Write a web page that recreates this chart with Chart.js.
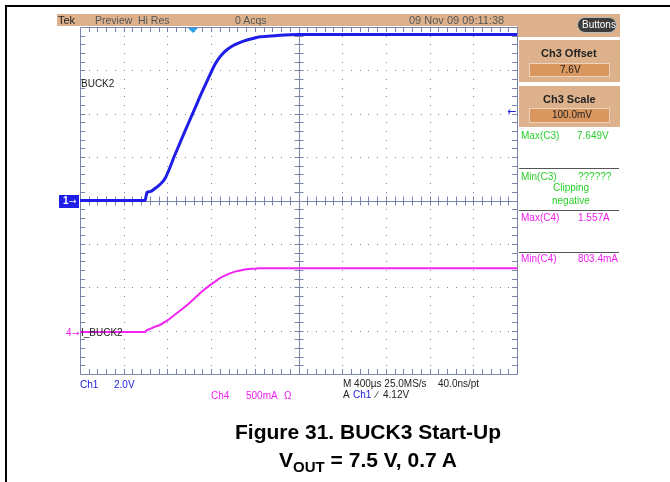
<!DOCTYPE html>
<html>
<head>
<meta charset="utf-8">
<script src="https://cdn.jsdelivr.net/npm/chart.js@4/dist/chart.umd.min.js"></script>
<style>
  body { margin: 0; background: #fff; }
  #wrap { position: relative; width: 670px; height: 482px; overflow: hidden; }
  #scope { position: absolute; left: 0; top: 0; }
  .t { position: absolute; font-family: 'Liberation Sans Narrow', 'Arial Narrow', 'Liberation Sans', sans-serif; font-size: 10px; line-height: 12px; white-space: nowrap; }
  .arr { font-family: 'DejaVu Sans', sans-serif; }
  .blk { color: #222; }
  .blu { color: #2020e0; }
  .mag { color: #f020f0; }
  .grn { color: #28d028; }
  .box { position: absolute; }
  .cap { position: absolute; left: 0; width: 736px; text-align: center; font-family: 'Liberation Sans', Arial, sans-serif; font-weight: bold; font-size: 21px; color: #000; line-height: 24px; }
  .cap sub { font-size: 15px; vertical-align: -5px; line-height: 0; }
</style>
</head>
<body>
<div id="wrap">
  <!-- frame lines -->
  <div class="box" style="left:5px;top:5px;width:665px;height:2px;background:#000"></div>
  <div class="box" style="left:5px;top:5px;width:2px;height:477px;background:#000"></div>

  <!-- header bar and channel 3 panel -->
  <div class="box" style="left:57px;top:14px;width:563px;height:12px;background:#ddb18c"></div>
  <div class="box" style="left:517px;top:14px;width:103px;height:23px;background:#ddb18c"></div>
  <div class="box" style="left:519px;top:40px;width:101px;height:42px;background:#ddb18c"></div>
  <div class="box" style="left:519px;top:86px;width:101px;height:41px;background:#ddb18c"></div>
  <div class="box" style="left:529px;top:63px;width:81px;height:14px;background:#d9975f;border:1px solid #edd3bc;box-sizing:border-box"></div>
  <div class="box" style="left:529px;top:108px;width:81px;height:15px;background:#d9975f;border:1px solid #edd3bc;box-sizing:border-box"></div>
  <div class="box" style="left:577px;top:17px;width:40px;height:16px;background:#3c3c3c;border:1px solid #bbb;border-radius:8px;box-sizing:border-box"></div>

  <canvas id="scope" width="670" height="482"></canvas>
</div>
<script>
// time axis in microseconds (400 us/div, 10 div)
const timeUs = [0, 595, 613, 641, 686, 732, 778, 870, 961, 1007, 1052, 1098, 1144, 1190, 1236, 1281, 1327, 1373, 1419, 1510, 1620, 1648, 1785, 1986, 4000];
// Ch1 BUCK2 output voltage (V)
const ch1Volts = [0, 0, 0.37, 0.41, 0.55, 0.74, 1.01, 2.12, 3.2, 3.73, 4.25, 4.79, 5.3, 5.8, 6.28, 6.62, 6.88, 7.06, 7.19, 7.37, 7.52, 7.55, 7.6, 7.65, 7.65];
// Ch4 BUCK2 current (A)
const ch4Amps = [0, 0, 0.02, 0.035, 0.06, 0.08, 0.115, 0.2, 0.29, 0.34, 0.39, 0.445, 0.495, 0.54, 0.58, 0.62, 0.65, 0.675, 0.695, 0.72, 0.732, 0.735, 0.735, 0.735, 0.735];

const divUs = 400;
const gridColor = '#7a84aa';

const ch1Points = timeUs.map((t, i) => ({ x: t, y: ch1Volts[i] }));
const ch4Points = timeUs.map((t, i) => ({ x: t, y: ch4Amps[i] }));

// scope graticule: dotted divisions, ticked centre cross, ticked border
const graticule = {
  id: 'graticule',
  beforeDatasetsDraw(chart) {
    const { ctx, chartArea: a } = chart;
    const w = a.right - a.left, h = a.bottom - a.top;
    const dx = w / 10, dy = h / 8;
    const cx = a.left + w / 2, cy = a.top + h / 2;
    ctx.save();
    ctx.fillStyle = gridColor;
    // dots along every division line
    for (let i = 1; i < 10; i++) {
      const x = Math.round(a.left + i * dx);
      for (let j = 0; j <= 40; j++) ctx.fillRect(x, Math.round(a.top + j * dy / 5), 1, 1);
    }
    for (let j = 1; j < 8; j++) {
      const y = Math.round(a.top + j * dy);
      for (let i = 0; i <= 50; i++) ctx.fillRect(Math.round(a.left + i * dx / 5), y, 1, 1);
    }
    ctx.strokeStyle = gridColor;
    ctx.lineWidth = 1;
    ctx.beginPath();
    // border
    ctx.rect(Math.round(a.left) + 0.5, Math.round(a.top) + 0.5, Math.round(w), Math.round(h));
    // centre cross
    ctx.moveTo(Math.round(cx) + 0.5, a.top); ctx.lineTo(Math.round(cx) + 0.5, a.bottom);
    ctx.moveTo(a.left, Math.round(cy) + 0.5); ctx.lineTo(a.right, Math.round(cy) + 0.5);
    // minor ticks
    for (let i = 1; i < 50; i++) {
      const x = Math.round(a.left + i * dx / 5) + 0.5;
      ctx.moveTo(x, cy - 4); ctx.lineTo(x, cy + 5);
      ctx.moveTo(x, a.top); ctx.lineTo(x, a.top + 5);
      ctx.moveTo(x, a.bottom); ctx.lineTo(x, a.bottom - 5);
    }
    for (let j = 1; j < 40; j++) {
      const y = Math.round(a.top + j * dy / 5) + 0.5;
      ctx.moveTo(cx - 4, y); ctx.lineTo(cx + 5, y);
      ctx.moveTo(a.left, y); ctx.lineTo(a.left + 5, y);
      ctx.moveTo(a.right, y); ctx.lineTo(a.right - 5, y);
    }
    ctx.stroke();
    // trigger position marker
    const tx = chart.scales.x.getPixelForValue(1034);
    ctx.fillStyle = '#2aa0e6';
    ctx.beginPath();
    ctx.moveTo(tx - 5, a.top + 1); ctx.lineTo(tx + 5, a.top + 1); ctx.lineTo(tx, a.top + 6);
    ctx.closePath(); ctx.fill();
    ctx.restore();
  }
};

const config = {
  type: 'line',
  data: {
    datasets: [
      { label: 'Ch1', data: ch1Points, yAxisID: 'y', borderColor: '#1e1ee8', borderWidth: 3, pointRadius: 0, cubicInterpolationMode: 'monotone' },
      { label: 'Ch4', data: ch4Points, yAxisID: 'y2', borderColor: '#f224f2', borderWidth: 2, pointRadius: 0, cubicInterpolationMode: 'monotone' }
    ]
  },
  options: {
    responsive: false,
    animation: false,
    events: [],
    layout: { padding: { left: 80, right: 153, top: 27, bottom: 108 } },
    plugins: { legend: { display: false }, tooltip: { enabled: false } },
    scales: {
      x: { type: 'linear', min: 0, max: 10 * divUs, display: false },
      y: { min: -8, max: 8, display: false },            // 2.0 V/div, ground at centre
      y2: { min: -0.485, max: 3.515, display: false }    // 500 mA/div, ground 3 div below centre
    }
  },
  plugins: [graticule]
};

new Chart(document.getElementById('scope'), config);

// text layer
const wrap = document.getElementById('wrap');
function label(txt, x, y, cls, extra) {
  const d = document.createElement('div');
  d.className = 't ' + cls;
  d.textContent = txt;
  d.style.left = x + 'px';
  d.style.top = (y - 6) + 'px';
  if (extra) Object.assign(d.style, extra);
  wrap.appendChild(d);
  return d;
}
// header
const hdr = { color: '#555', fontSize: '10.5px' };
label('Tek', 58, 20, 'blk', { fontSize: '11px' });
label('Preview', 95, 20, 'blk', hdr);
label('Hi Res', 138, 20, 'blk', hdr);
label('0 Acqs', 235, 20, 'blk', hdr);
label('09 Nov 09 09:11:38', 409, 20, 'blk', { color: '#555', fontSize: '11px' });
label('Buttons', 582, 25, 'blk', { color: '#fff' });
// channel 3 panel
label('Ch3 Offset', 541, 53, 'blk', { fontWeight: 'bold', fontSize: '11px' });
label('7.6V', 560, 70, 'blk');
label('Ch3 Scale', 543, 99, 'blk', { fontWeight: 'bold', fontSize: '11px' });
label('100.0mV', 552, 115, 'blk');
// measurements
label('Max(C3)', 521, 136, 'grn');
label('7.649V', 577, 136, 'grn');
label('Min(C3)', 521, 177, 'grn');
label('??????', 578, 177, 'grn');
label('Clipping', 553, 188, 'grn');
label('negative', 552, 201, 'grn');
label('Max(C4)', 521, 218, 'mag');
label('1.557A', 578, 218, 'mag');
label('Min(C4)', 521, 259, 'mag');
label('803.4mA', 578, 259, 'mag');
[168, 210, 252].forEach(y => {
  const l = document.createElement('div');
  l.className = 'box';
  Object.assign(l.style, { left: '519px', top: y + 'px', width: '100px', height: '1px', background: '#555' });
  wrap.appendChild(l);
});
// channel markers and trace names
const m1 = document.createElement('div');
m1.className = 'box';
Object.assign(m1.style, { left: '59px', top: '195px', width: '20px', height: '13px', background: '#1e1ee8' });
wrap.appendChild(m1);
label('1', 63, 201, 'blk', { color: '#fff', fontWeight: 'bold' });
label('\u2192', 69, 201, 'arr', { color: '#fff', fontSize: '9px' });
label('4', 66, 333, 'mag');
label('\u2192', 72, 333, 'arr mag', { fontSize: '9px' });
label('BUCK2', 81, 84, 'blk');
label('I_BUCK2', 81, 333, 'blk');
label('\u2190', 507, 112, 'arr blu', { fontSize: '11px' });
// bottom readouts
label('Ch1', 80, 385, 'blu');
label('2.0V', 114, 385, 'blu');
label('Ch4', 211, 396, 'mag');
label('500mA', 246, 396, 'mag');
label('\u03a9', 284, 396, 'mag');
label('M 400\u00b5s 25.0MS/s', 343, 384, 'blk');
label('40.0ns/pt', 438, 384, 'blk');
label('A', 343, 395, 'blk');
label('Ch1', 353, 395, 'blu');
label('\u2215', 376, 395, 'blk');
label('4.12V', 383, 395, 'blk');

// caption
const c1 = document.createElement('div');
c1.className = 'cap';
c1.style.top = '420px';
c1.textContent = 'Figure 31. BUCK3 Start-Up';
wrap.appendChild(c1);
const c2 = document.createElement('div');
c2.className = 'cap';
c2.style.top = '448px';
c2.innerHTML = 'V<sub>OUT</sub> = 7.5 V, 0.7 A';
wrap.appendChild(c2);
</script>
</body>
</html>
